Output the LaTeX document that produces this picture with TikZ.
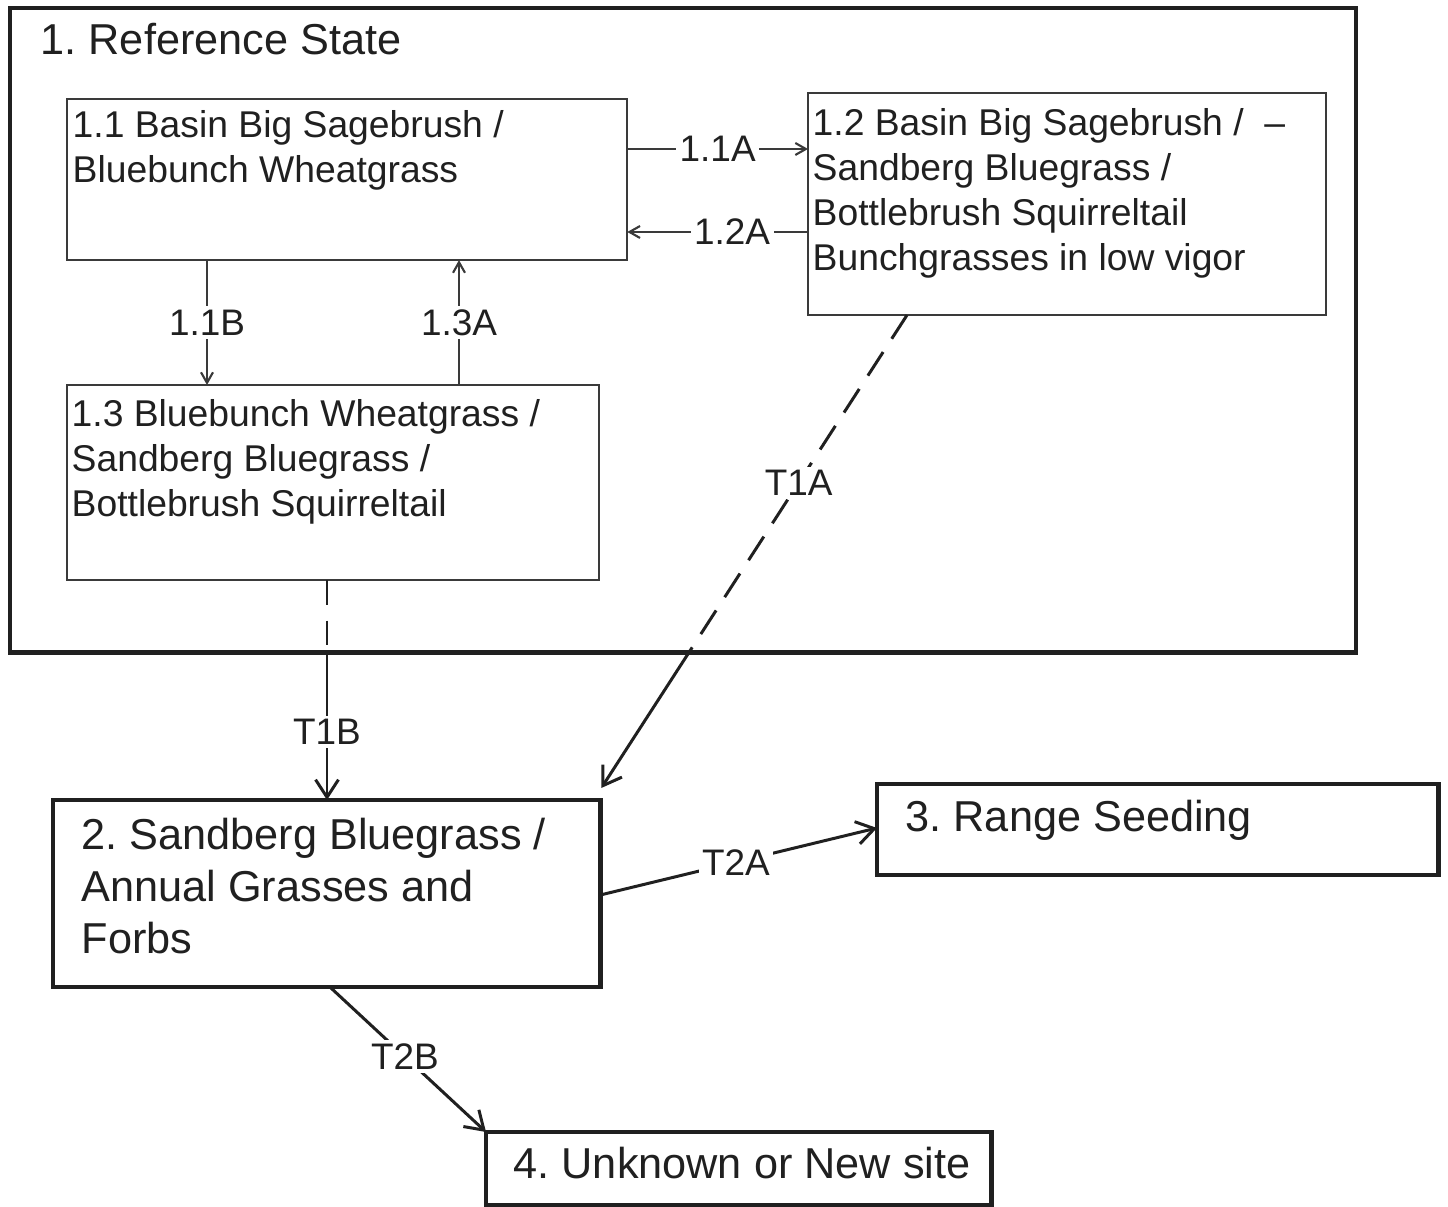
\documentclass[tikz,border=0pt]{standalone}
\usepackage{fontspec}
\setmainfont{Liberation Sans}
\usetikzlibrary{arrows.meta,calc}
\definecolor{ink}{HTML}{202020}
\definecolor{lineg}{HTML}{3A3A3A}
\frenchspacing
\begin{document}
\begin{tikzpicture}[x=0.01cm,y=-0.01cm,
  statebox/.style={draw=ink, line width=1.3pt, inner sep=0pt, outer sep=0pt, anchor=north west},
  phasebox/.style={draw=lineg, line width=0.6pt, inner sep=0pt, outer sep=0pt, anchor=north west},
  smalltxt/.style={font=\fontsize{10.6}{12.8}\selectfont, text=ink, align=left, inner sep=0pt, anchor=north west},
  bigtxt/.style={font=\fontsize{12.3}{14.9}\selectfont, text=ink, align=left, inner sep=0pt, anchor=north west},
  lbl/.style={font=\fontsize{10.5}{12.6}\selectfont, text=ink, fill=white, inner sep=1pt},
  thinarrow/.style={draw=lineg, line width=0.6pt, -{Straight Barb[length=3pt,width=3.4pt]}},
  thickarrow/.style={draw=ink, line width=0.85pt, -{Straight Barb[length=5pt,width=6.5pt,line width=0.85pt]}},
  dashline/.style={draw=ink, line width=0.85pt, dash pattern=on 8pt off 4.5pt}
]
\useasboundingbox[fill=white] (0,0) rectangle (1448,1207);

% boxes
\node[statebox, minimum width=13.45cm, minimum height=6.44cm] (s1) at (10,8) {};
\node[phasebox, minimum width=5.60cm, minimum height=1.61cm] (s11) at (67,99) {};
\node[phasebox, minimum width=5.18cm, minimum height=2.22cm] (s12) at (808,93) {};
\node[phasebox, minimum width=5.32cm, minimum height=1.95cm] (s13) at (67,385) {};
\node[statebox, minimum width=5.47cm, minimum height=1.87cm] (s2) at (53,800) {};
\node[statebox, minimum width=5.61cm, minimum height=0.91cm] (s3) at (877,784) {};
\node[statebox, minimum width=5.05cm, minimum height=0.73cm] (s4) at (486,1132) {};

% texts
\node[bigtxt] (t1) at (40,23) {1. Reference State};
\node[smalltxt] (t11) at (72,110) {1.1 Basin Big Sagebrush /\\Bluebunch Wheatgrass};
\node[smalltxt] (t12) at (812,108) {1.2 Basin Big Sagebrush / \ –\\Sandberg Bluegrass /\\Bottlebrush Squirreltail\\Bunchgrasses in low vigor};
\node[smalltxt] (t13) at (71,399) {1.3 Bluebunch Wheatgrass /\\Sandberg Bluegrass /\\Bottlebrush Squirreltail};
\node[bigtxt] (t2) at (81,817) {2. Sandberg Bluegrass /\\Annual Grasses and\\Forbs};
\node[bigtxt] (t3) at (905,799) {3. Range Seeding};
\node[bigtxt] (t4) at (513,1146) {4. Unknown or New site};

% community pathways
\draw[thinarrow] ($(s11.north east)+(0,50)$) -- node[lbl] (l11a) {1.1A} ($(s12.north west)+(0,56)$);
\draw[thinarrow] ($(s12.north west)+(0,139)$) -- node[lbl, pos=0.42] (l12a) {1.2A} ($(s11.north east)+(0,133)$);
\draw[thinarrow] ($(s11.south west)+(140,0)$) -- node[lbl] (l11b) {1.1B} ($(s13.north west)+(140,0)$);
\draw[thinarrow] ($(s13.north west)+(392,0)$) -- node[lbl] (l13a) {1.3A} ($(s11.south west)+(392,0)$);

% transitions
\coordinate (a1) at ($(s12.south west)+(99,0)$);
\coordinate (a2) at ($(s2.north east)+(1,-12)$);
\coordinate (a12) at ($(a1)!0.709!(a2)$);
\draw[dashline] (a1) -- node[lbl, pos=0.5] (lt1a) {T1A} (a12);
\draw[thickarrow] (a12) -- (a2);

\coordinate (b1) at ($(s13.south west)+(260,0)$);
\coordinate (b2) at ($(s2.north west)+(274,0)$);
\coordinate (b12) at (b1 |- s1.south);
\draw[draw=ink, line width=0.85pt, dash pattern=on 7pt off 4.5pt] (b1) -- (b12);
\draw[thickarrow] (b12) -- node[lbl, pos=0.54] (lt1b) {T1B} (b2);

\draw[thickarrow] ($(s2.north east)+(0,95)$) -- node[lbl, pos=0.49] (lt2a) {T2A} ($(s3.north west)+(0,44)$);
\draw[thickarrow] ($(s2.south west)+(277,0)$) -- node[lbl, pos=0.48] (lt2b) {T2B} (s4.north west);
\end{tikzpicture}
\end{document}
